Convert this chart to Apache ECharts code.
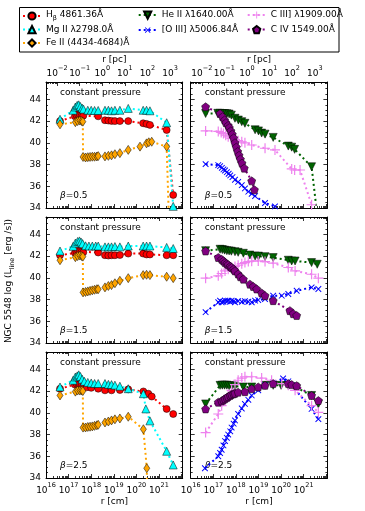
<!DOCTYPE html>
<html>
<head>
<meta charset="utf-8">
<script src="https://cdn.jsdelivr.net/npm/echarts@6/dist/echarts.min.js"></script>
<style>
html, body { margin: 0; padding: 0; background: #fff; }
#main { width: 365px; height: 511px; }
</style>
</head>
<body>
<div id="main"></div>
<script>
// points are [log10 r (cm), log L]; one array per line and beta
const hbeta_b05 = [[16.62,42.0],[17.28,42.45],[17.35,42.55],[17.42,42.6],[17.5,42.55],[17.58,42.5],[17.65,42.5],[18.31,42.44],[18.61,42.08],[18.76,42.05],[18.9,42.02],[19.05,42.0],[19.27,42.0],[19.64,42.0],[20.3,41.8],[20.45,41.74],[20.6,41.65],[21.34,41.18],[21.63,35.2]];
const mg2_b05 = [[16.62,42.17],[17.2,43.0],[17.3,43.3],[17.38,43.45],[17.45,43.5],[17.52,43.35],[17.6,43.2],[17.66,43.1],[17.85,43.0],[18.0,43.0],[18.15,42.98],[18.31,42.98],[18.61,43.0],[18.76,43.0],[18.9,42.95],[19.05,43.0],[19.27,43.0],[19.64,43.17],[20.3,43.0],[20.45,43.0],[20.6,42.95],[21.34,41.85],[21.63,34.15]];
const fe2_b05 = [[16.62,41.7],[17.3,41.9],[17.4,42.0],[17.5,42.05],[17.58,42.0],[17.63,41.95],[17.64,38.7],[17.75,38.65],[17.85,38.68],[17.95,38.7],[18.05,38.72],[18.15,38.72],[18.25,38.74],[18.31,38.78],[18.61,38.75],[18.76,38.8],[18.9,38.85],[19.05,38.95],[19.27,39.05],[19.64,39.35],[20.16,39.65],[20.45,39.95],[20.55,40.05],[20.68,40.1],[21.34,39.65],[21.63,20]];
const he2_b05 = [[16.66,42.7],[17.2,42.72],[17.3,42.72],[17.4,42.7],[17.5,42.7],[17.6,42.68],[17.7,42.65],[17.8,42.55],[17.96,42.26],[18.11,42.1],[18.26,41.95],[18.4,41.8],[18.85,41.2],[19.0,41.1],[19.14,40.9],[19.29,40.8],[19.65,40.5],[20.32,39.7],[20.47,39.6],[20.6,39.4],[21.35,37.8],[21.62,33]];
const oiii_b05 = [[16.66,38.04],[17.22,37.95],[17.3,37.85],[17.38,37.7],[17.45,37.55],[17.52,37.45],[17.6,37.3],[17.68,37.15],[17.75,37.0],[17.85,36.85],[17.96,36.6],[18.1,36.4],[18.26,36.1],[18.4,35.8],[18.55,35.5],[18.7,35.3],[18.85,35.1],[19.29,34.46],[19.73,34.15]];
const ciii_b05 = [[16.66,41.1],[17.22,41.05],[17.35,40.95],[17.45,40.85],[17.55,40.7],[17.66,40.55],[17.8,40.4],[17.96,40.3],[18.1,40.2],[18.26,40.1],[18.4,40.0],[18.7,39.8],[19.29,39.5],[19.73,39.35],[20.47,37.6],[20.6,37.5],[20.84,37.5],[21.35,34.3]];
const civ_b05 = [[16.66,43.32],[17.3,42.7],[17.41,42.4],[17.5,42.1],[17.56,41.85],[17.66,41.6],[17.71,41.4],[17.78,41.1],[17.84,40.8],[17.9,40.45],[17.96,40.0],[18.02,39.6],[18.08,39.2],[18.14,38.85],[18.2,38.5],[18.27,38.13],[18.37,37.67],[18.7,36.5],[18.82,35.68]];

const hbeta_b15 = [[16.62,42.08],[17.28,42.3],[17.35,42.4],[17.42,42.5],[17.5,42.45],[17.58,42.4],[17.65,42.35],[18.31,42.33],[18.61,42.08],[18.76,42.05],[18.9,42.08],[19.05,42.08],[19.27,42.1],[19.64,42.23],[20.3,42.23],[20.45,42.15],[20.6,42.15],[21.34,42.08],[21.63,42.08]];
const mg2_b15 = [[16.62,42.47],[17.2,42.9],[17.3,43.2],[17.4,43.35],[17.48,43.4],[17.55,43.3],[17.62,43.15],[17.75,42.95],[17.9,42.93],[18.05,42.93],[18.2,42.93],[18.31,42.93],[18.61,42.85],[18.76,42.85],[18.9,42.85],[19.05,42.88],[19.27,42.85],[19.64,42.93],[20.3,42.93],[20.45,42.93],[20.6,42.93],[21.34,42.8],[21.63,42.7]];
const fe2_b15 = [[16.62,41.62],[17.3,41.9],[17.4,42.0],[17.5,42.05],[17.58,42.0],[17.63,41.95],[17.64,38.66],[17.75,38.7],[17.85,38.75],[17.95,38.8],[18.05,38.85],[18.15,38.9],[18.25,38.95],[18.31,38.95],[18.61,39.12],[18.76,39.25],[18.9,39.33],[19.05,39.5],[19.27,39.73],[19.64,39.97],[20.3,40.25],[20.45,40.28],[20.6,40.25],[21.34,40.1],[21.63,39.97]];
const he2_b15 = [[16.66,42.5],[17.3,42.63],[17.4,42.6],[17.5,42.55],[17.6,42.5],[17.7,42.48],[17.8,42.45],[17.96,42.4],[18.1,42.35],[18.33,42.26],[18.62,42.1],[18.85,42.0],[19.0,42.0],[19.29,41.95],[19.65,41.86],[20.32,41.62],[20.47,41.55],[20.62,41.55],[21.35,41.4],[21.6,41.25]];
const oiii_b15 = [[16.66,36.84],[17.22,37.75],[17.3,37.9],[17.37,37.75],[17.45,37.8],[17.52,37.9],[17.6,37.85],[17.66,37.9],[17.75,37.8],[17.81,37.9],[17.9,37.85],[17.96,37.75],[18.1,37.85],[18.26,37.8],[18.4,37.85],[18.55,37.8],[18.7,37.75],[18.85,37.9],[18.99,37.95],[19.29,38.05],[19.65,38.36],[20.03,38.36],[20.32,38.51],[20.69,38.81],[21.35,39.12],[21.65,38.97]];
const ciii_b15 = [[16.66,39.97],[17.22,40.18],[17.37,40.4],[17.52,40.64],[17.66,40.8],[17.81,40.95],[17.96,41.05],[18.1,41.16],[18.26,41.3],[18.4,41.4],[18.55,41.5],[18.7,41.53],[18.99,41.56],[19.29,41.5],[19.65,41.35],[20.32,40.95],[20.62,40.64],[21.35,40.33],[21.65,39.97]];
const civ_b15 = [[16.66,42.47],[17.22,41.87],[17.37,41.7],[17.45,41.55],[17.52,41.4],[17.6,41.3],[17.66,41.2],[17.75,41.05],[17.81,40.95],[17.9,40.8],[17.96,40.64],[18.1,40.35],[18.2,40.1],[18.33,39.88],[18.62,39.42],[18.77,39.2],[18.92,38.97],[19.14,38.6],[19.29,38.36],[19.65,37.9],[20.39,36.98],[20.54,36.7],[20.69,36.53]];

const hbeta_b25 = [[16.62,42.22],[17.28,42.6],[17.35,42.7],[17.42,42.75],[17.5,42.65],[17.58,42.55],[17.65,42.45],[17.8,42.35],[18.0,42.3],[18.31,42.22],[18.61,42.07],[18.9,42.07],[19.27,42.1],[19.64,42.16],[20.31,41.97],[20.53,41.76],[20.68,41.5],[21.34,40.36],[21.63,39.89]];
const mg2_b25 = [[16.62,42.38],[17.2,43.0],[17.3,43.3],[17.38,43.4],[17.45,43.5],[17.52,43.35],[17.6,43.1],[17.7,42.9],[17.85,42.8],[18.0,42.75],[18.15,42.7],[18.31,42.7],[18.61,42.7],[18.76,42.62],[18.9,42.6],[19.05,42.55],[19.27,42.45],[19.64,42.22],[20.31,41.76],[20.42,40.36],[20.6,39.26],[21.34,36.46],[21.63,35.2]];
const fe2_b25 = [[16.62,41.6],[17.3,41.95],[17.4,42.05],[17.5,42.05],[17.58,42.05],[17.63,42.0],[17.64,38.64],[17.75,38.65],[17.85,38.7],[17.95,38.72],[18.05,38.75],[18.15,38.8],[18.25,38.85],[18.31,38.9],[18.61,39.11],[18.76,39.2],[18.9,39.3],[19.05,39.4],[19.27,39.48],[19.64,39.64],[20.31,38.49],[20.46,34.9],[20.5,30]];
const he2_b25 = [[16.66,40.82],[17.3,42.53],[17.4,42.55],[17.5,42.55],[17.6,42.55],[17.7,42.5],[17.81,42.5],[17.96,42.45],[18.33,42.38],[18.7,42.38],[19.29,42.53],[19.65,42.53],[20.0,42.53],[20.32,42.53],[20.62,42.38],[21.35,41.6],[21.65,40.82]];
const oiii_b25 = [[16.63,34.9],[17.22,36.0],[17.3,36.3],[17.37,36.6],[17.45,37.0],[17.52,37.4],[17.6,37.7],[17.66,38.0],[17.75,38.3],[17.81,38.64],[17.9,39.0],[17.96,39.3],[18.1,39.89],[18.26,40.4],[18.4,40.82],[18.55,41.2],[18.7,41.6],[18.99,42.07],[19.29,42.53],[19.65,42.76],[20.09,43.16],[20.32,42.9],[20.47,42.53],[21.35,40.36],[21.65,39.42]];
const ciii_b25 = [[16.66,38.18],[17.22,39.89],[17.37,40.66],[17.52,41.1],[17.66,41.6],[17.81,42.07],[17.96,42.6],[18.1,43.0],[18.26,43.2],[18.4,43.32],[18.7,43.32],[19.14,43.2],[19.58,43.0],[20.03,42.69],[20.32,42.53],[20.62,42.07],[21.35,40.66],[21.65,40.05]];
const civ_b25 = [[16.66,40.36],[17.22,40.98],[17.37,41.1],[17.45,41.2],[17.52,41.3],[17.6,41.4],[17.66,41.5],[17.75,41.6],[17.81,41.7],[17.9,41.75],[17.96,41.8],[18.1,41.9],[18.4,41.95],[18.7,42.22],[18.99,42.38],[19.29,42.53],[19.65,42.69],[20.32,42.69],[20.47,42.6],[20.69,42.5],[21.35,41.6],[21.65,41.13]];

const betaLabels = ['0.5', '1.5', '2.5'];
const yTicks = [34, 36, 38, 40, 42, 44];
const cmTicks = [16, 17, 18, 19, 20, 21];
const pcExps = [-2, -1, 0, 1, 2, 3];

const FONT = 'DejaVu Sans';
const PC = Math.log10(3.0857e18);
const X0 = 16, X1 = 22.05, Y0 = 34, Y1 = 45.6;

// minor ticks (log decades)
const cmMajor = cmTicks.concat([22]);
const cmMinor = [];
for (let n = 16; n <= 21; n++) for (let k = 2; k <= 9; k++) {
    const v = n + Math.log10(k);
    if (v < X1) cmMinor.push(v);
}
const pcMajor = pcExps.map(e => e + PC);
const pcMinor = [];
for (let n = -3; n <= 3; n++) for (let k = 2; k <= 9; k++) {
    const v = n + Math.log10(k) + PC;
    if (v > X0 && v < X1) pcMinor.push(v);
}
const yMinor = [];
for (let v = 34.5; v < Y1; v += 0.5) if (v % 2 !== 0) yMinor.push(v);

const supRich = {
    b: { fontSize: 9, fontFamily: FONT, color: '#000', padding: [4, 0, 0, 0], verticalAlign: 'bottom' },
    s: { fontSize: 6.5, fontFamily: FONT, color: '#000', verticalAlign: 'top' }
};

const lefts = [46, 190.7], tops = [82, 217, 352];
const grids = [], xAxes = [], yAxes = [];

function axisOf(g, pos, ticks, len, showLine, label) {
    const horiz = pos === 'top' || pos === 'bottom';
    const a = {
        type: 'value', gridIndex: g, position: pos,
        min: horiz ? X0 : Y0, max: horiz ? X1 : Y1,
        axisLine: { show: showLine, onZero: false, lineStyle: { color: '#000', width: 1 } },
        axisTick: { show: true, inside: true, length: len, customValues: ticks, lineStyle: { color: '#000', width: 0.8 } },
        axisLabel: { show: false },
        splitLine: { show: false },
        minorTick: { show: false }
    };
    if (label) a.axisLabel = Object.assign({ show: true, margin: 4, color: '#000', fontFamily: FONT, fontSize: 9 }, label);
    return a;
}

for (let r = 0; r < 3; r++) {
    for (let c = 0; c < 2; c++) {
        const g = r * 2 + c;
        grids.push({ left: lefts[c], top: tops[r], width: 136.7, height: 126, containLabel: false });
        xAxes.push(axisOf(g, 'bottom', cmMajor, 4, true, r === 2 ? {
            customValues: cmTicks, rich: supRich,
            formatter: v => '{b|10}{s|' + Math.round(v) + '}'
        } : null));
        xAxes.push(axisOf(g, 'bottom', cmMinor, 2, false));
        xAxes.push(axisOf(g, 'top', r === 0 ? pcMajor : cmMajor, 4, true, r === 0 ? {
            customValues: pcMajor, rich: supRich,
            formatter: v => {
                const e = Math.round(v - PC);
                return '{b|10}{s|' + (e < 0 ? '\u2212' + (-e) : e) + '}';
            }
        } : null));
        xAxes.push(axisOf(g, 'top', r === 0 ? pcMinor : cmMinor, 2, false));
        yAxes.push(axisOf(g, 'left', yTicks, 4, true, c === 0 ? {
            customValues: yTicks, margin: 5, formatter: v => String(v)
        } : null));
        yAxes.push(axisOf(g, 'left', yMinor, 2, false));
        yAxes.push(axisOf(g, 'right', yTicks, 4, true));
        yAxes.push(axisOf(g, 'right', yMinor, 2, false));
    }
}

const plusPath = 'path://M0,4.4H10V5.6H0Z M4.4,0H5.6V10H4.4Z';
const pentPath = 'path://M0,-1L0.951,-0.309L0.588,0.809L-0.588,0.809L-0.951,-0.309Z';

const lines = [
    { name: 'Hb', col: 0, color: '#ff0000', symbol: 'circle', size: 7, edge: true, data: [hbeta_b05, hbeta_b15, hbeta_b25] },
    { name: 'Mg II \u03bb2798.0\u00c5', col: 0, color: '#00ffff', symbol: 'triangle', size: 8, edge: true, data: [mg2_b05, mg2_b15, mg2_b25] },
    { name: 'Fe II (4434-4684)\u00c5', col: 0, color: '#ffa500', symbol: 'diamond', size: [6, 9], edge: true, data: [fe2_b05, fe2_b15, fe2_b25] },
    { name: 'He II \u03bb1640.00\u00c5', col: 1, color: '#006400', symbol: 'triangle', rotate: 180, size: 8, edge: true, data: [he2_b05, he2_b15, he2_b25] },
    { name: '[O III] \u03bb5006.84\u00c5', col: 1, color: '#0000ff', symbol: plusPath, rotate: 45, size: 8, edge: false, data: [oiii_b05, oiii_b15, oiii_b25] },
    { name: 'C III] \u03bb1909.00\u00c5', col: 1, color: '#ee82ee', symbol: plusPath, size: 10, edge: false, data: [ciii_b05, ciii_b15, ciii_b25] },
    { name: 'C IV 1549.00\u00c5', col: 1, color: '#800080', symbol: pentPath, size: 8, edge: true, data: [civ_b05, civ_b15, civ_b25] }
];

const series = [];
lines.forEach(ln => {
    for (let b = 0; b < 3; b++) {
        const g = b * 2 + ln.col;
        series.push({
            type: 'line', name: ln.name,
            xAxisIndex: g * 4, yAxisIndex: g * 4,
            data: ln.data[b],
            symbol: ln.symbol, symbolSize: ln.size, symbolRotate: ln.rotate || 0,
            lineStyle: { color: ln.color, width: 2, type: [2, 3] },
            itemStyle: { color: ln.color, borderColor: ln.edge ? '#000' : ln.color, borderWidth: ln.edge ? 0.5 : 0 },
            emphasis: { disabled: true },
            clip: true
        });
    }
});

// legend: one component per entry, 3 columns like the figure
const legendSpots = [[22, 15], [22, 29.5], [22, 43], [137.7, 15], [137.7, 29.5], [246.7, 15], [246.7, 29.5]];
const legendRich = {
    n: { fontSize: 9, fontFamily: FONT, color: '#000', padding: [0, 0, 2, 0], verticalAlign: 'top' },
    sub: { fontSize: 6.5, fontFamily: FONT, color: '#000', verticalAlign: 'bottom' }
};
const legends = lines.map((ln, i) => ({
    data: [ln.name],
    left: legendSpots[i][0], top: legendSpots[i][1] - 4.5,
    padding: 0, itemWidth: 18, itemHeight: 9, itemGap: 0, itemTextGap: 6,
    selectedMode: false,
    textStyle: { fontSize: 9, fontFamily: FONT, color: '#000', rich: legendRich },
    formatter: name => name === 'Hb' ? '{n|H}{sub|\u03b2}{n| 4861.36\u00c5}' : name
}));

const graphics = [
    { type: 'rect', shape: { x: 19.5, y: 7.5, width: 319.5, height: 44.5 }, style: { fill: 'none', stroke: '#000', lineWidth: 1 } },
    { type: 'text', x: 114.3, y: 60, style: { text: 'r [pc]', font: '9px ' + FONT, fill: '#000', align: 'center', verticalAlign: 'middle' } },
    { type: 'text', x: 259, y: 60, style: { text: 'r [pc]', font: '9px ' + FONT, fill: '#000', align: 'center', verticalAlign: 'middle' } },
    { type: 'text', x: 114.3, y: 502, style: { text: 'r [cm]', font: '9px ' + FONT, fill: '#000', align: 'center', verticalAlign: 'middle' } },
    { type: 'text', x: 259, y: 502, style: { text: 'r [cm]', font: '9px ' + FONT, fill: '#000', align: 'center', verticalAlign: 'middle' } },
    {
        type: 'text', x: 10, y: 281, rotation: Math.PI / 2,
        style: {
            text: '{n|NGC 5548 log (L}{sub|line}{n| [erg /s])}', align: 'center', verticalAlign: 'middle',
            rich: legendRich
        }
    }
];
for (let r = 0; r < 3; r++) {
    for (let c = 0; c < 2; c++) {
        const x = lefts[c] + 14;
        graphics.push({ type: 'text', x: x, y: tops[r] + 10.5, style: { text: 'constant pressure', font: '9px ' + FONT, fill: '#000', align: 'left', verticalAlign: 'middle' } });
        graphics.push({
            type: 'text', x: x, y: tops[r] + 114,
            style: {
                text: '{i|\u03b2}{t|=' + betaLabels[r] + '}', align: 'left', verticalAlign: 'middle',
                rich: {
                    i: { fontSize: 9, fontFamily: FONT, fontStyle: 'italic', fill: '#000', color: '#000' },
                    t: { fontSize: 9, fontFamily: FONT, fill: '#000', color: '#000' }
                }
            }
        });
    }
}

const chart = echarts.init(document.getElementById('main'));
chart.setOption({
    animation: false,
    backgroundColor: '#fff',
    grid: grids,
    xAxis: xAxes,
    yAxis: yAxes,
    legend: legends,
    graphic: graphics,
    series: series
});
</script>
</body>
</html>
